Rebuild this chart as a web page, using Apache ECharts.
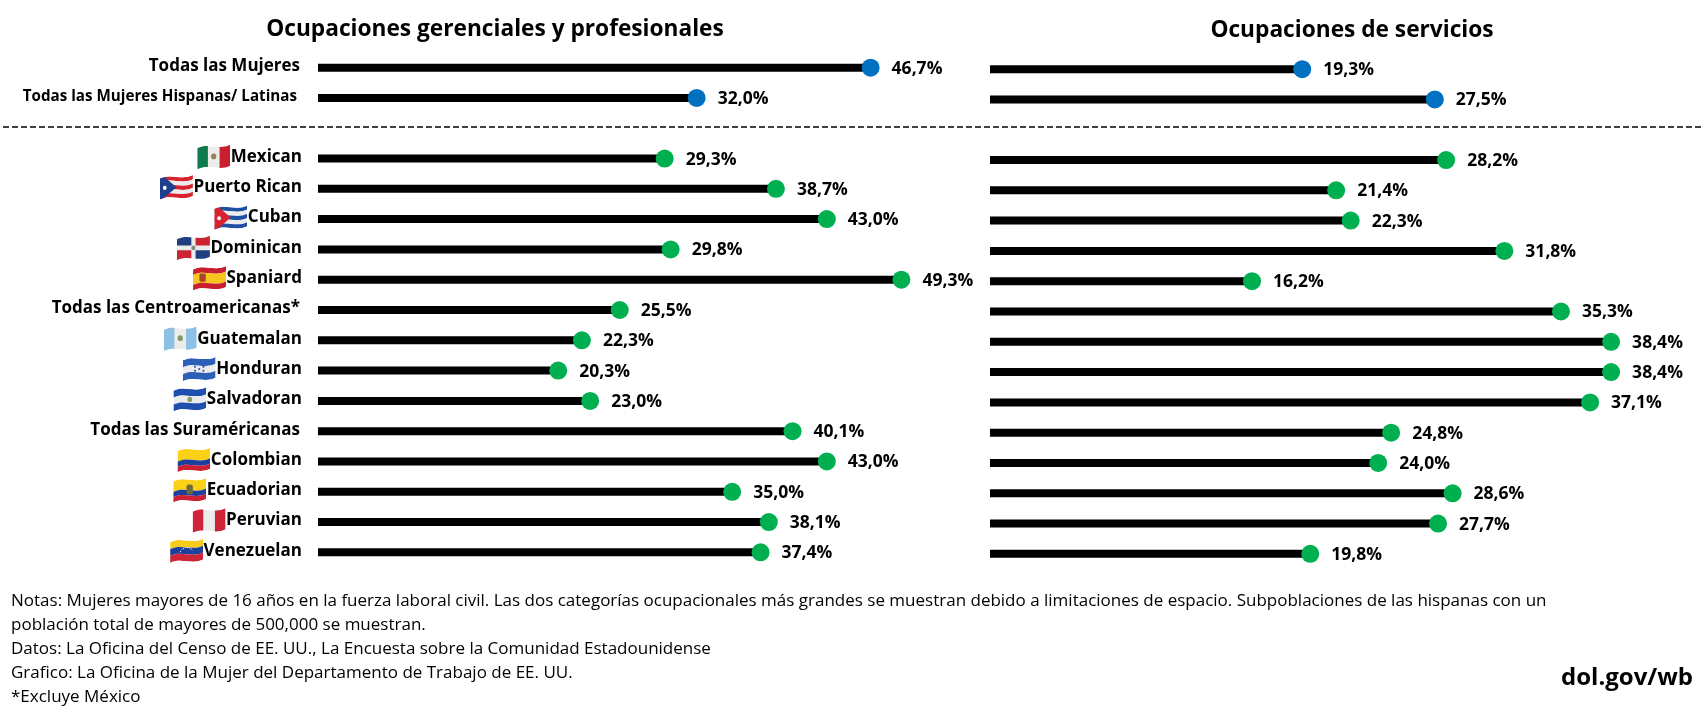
<!DOCTYPE html>
<html>
	<head>
		<meta charset="utf-8" />
		<title>Ocupaciones</title>
		<style type="text/css">
			body,
			html,
			#chart {
				width: 100%;
				height: 100%;
				overflow: hidden;
				margin: 0;
				background: #fff;
			}
		</style>
	</head>
	<body>
		<div id="chart"></div>
		<script src="https://cdn.jsdelivr.net/npm/echarts@6/dist/echarts.min.js"></script>
		<script>
			// datos (la fila vacia es el hueco de la linea punteada)
			var rowLabels = ['Todas las Mujeres', 'Todas las Mujeres Hispanas/ Latinas', '', 'Mexican', 'Puerto Rican', 'Cuban', 'Dominican', 'Spaniard', 'Todas las Centroamericanas*', 'Guatemalan', 'Honduran', 'Salvadoran', 'Todas las Suraméricanas', 'Colombian', 'Ecuadorian', 'Peruvian', 'Venezuelan'];
			var rowFlags = ['', '', '', 'mx', 'pr', 'cu', 'do', 'es', '', 'gt', 'hn', 'sv', '', 'co', 'ec', 'pe', 've'];
			var gerenciales = [46.7, 32.0, null, 29.3, 38.7, 43.0, 29.8, 49.3, 25.5, 22.3, 20.3, 23.0, 40.1, 43.0, 35.0, 38.1, 37.4];
			var servicios = [19.3, 27.5, null, 28.2, 21.4, 22.3, 31.8, 16.2, 35.3, 38.4, 38.4, 37.1, 24.8, 24.0, 28.6, 27.7, 19.8];
			var titles = ['Ocupaciones gerenciales y profesionales', 'Ocupaciones de servicios'];
			var notes = [
				'Notas: Mujeres mayores de 16 años en la fuerza laboral civil. Las dos categorías ocupacionales más grandes se muestran debido a limitaciones de espacio. Subpoblaciones de las hispanas con un',
				'población total de mayores de 500,000 se muestran.',
				'Datos: La Oficina del Censo de EE. UU., La Encuesta sobre la Comunidad Estadounidense',
				'Grafico: La Oficina de la Mujer del Departamento de Trabajo de EE. UU.',
				'*Excluye México'
			];

			var FONT = '"Open Sans", sans-serif';
			var BLUE = '#0070c0';
			var GREEN = '#00b050';

			// banda ondulada de la bandera, t0 y t1 van de 0 a 1
			function band(t0, t1, color) {
				var a = 7 + 36 * t0, b = 7 + 36 * t1;
				return '<path fill="' + color + '" d="M1 ' + (a + 3) + 'C22 ' + (a - 7) + ' 42 ' + (a + 7) + ' 63 ' + (a - 3) +
					'L63 ' + (b - 3) + 'C42 ' + (b + 7) + ' 22 ' + (b - 7) + ' 1 ' + (b + 3) + 'Z"/>';
			}
			function stripes(list) {
				var s = '', n = list.length;
				list.forEach(function (c, i) { s += band(i / n, (i + 1) / n, c); });
				return s;
			}
			var OUTLINE = 'M1 10C22 0 42 14 63 4L63 40C42 50 22 36 1 46Z';
			var flagArt = {
				mx: band(0, 1, '#ececec') + '<rect x="0" y="0" width="21" height="50" fill="#0f7a4d"/><rect x="43" y="0" width="21" height="50" fill="#c8202f"/><circle cx="32" cy="24" r="5" fill="#9a8150"/>',
				pr: stripes(['#d8232f', '#ececec', '#d8232f', '#ececec', '#d8232f']) + '<path d="M0 0L32 25L0 50Z" fill="#1f3f8f"/><circle cx="10" cy="26" r="3.5" fill="#fff"/>',
				cu: stripes(['#1d4fa3', '#ececec', '#1d4fa3', '#ececec', '#1d4fa3']) + '<path d="M0 0L32 25L0 50Z" fill="#d8232f"/><circle cx="10" cy="26" r="3.5" fill="#fff"/>',
				'do': band(0, 1, '#ececec') + '<path d="M0 0H28V21H0Z" fill="#1f3f7f"/><path d="M36 0H64V21H36Z" fill="#cc2433"/><path d="M0 29H28V50H0Z" fill="#cc2433"/><path d="M36 29H64V50H36Z" fill="#1f3f7f"/><circle cx="32" cy="25" r="4" fill="#7f8f7f"/>',
				es: band(0, 0.26, '#c8202f') + band(0.26, 0.74, '#f7c61c') + band(0.74, 1, '#c8202f') + '<rect x="13" y="17" width="12" height="14" rx="3" fill="#a8452a"/>',
				gt: band(0, 1, '#ececec') + '<rect x="0" y="0" width="21" height="50" fill="#8cc0e4"/><rect x="43" y="0" width="21" height="50" fill="#8cc0e4"/><circle cx="32" cy="24" r="5" fill="#7f9a6a"/>',
				hn: stripes(['#2c5fb8', '#ececec', '#2c5fb8']) + '<g fill="#2c5fb8"><circle cx="24" cy="21" r="2"/><circle cx="40" cy="21" r="2"/><circle cx="32" cy="25" r="2"/><circle cx="24" cy="28" r="2"/><circle cx="40" cy="28" r="2"/></g>',
				sv: stripes(['#1f4fae', '#ececec', '#1f4fae']) + '<circle cx="32" cy="25" r="4.5" fill="#8a9a6a"/>',
				co: band(0, 0.5, '#fbd116') + band(0.5, 0.75, '#1f3f9f') + band(0.75, 1, '#ce2035'),
				ec: band(0, 0.5, '#fbd116') + band(0.5, 0.75, '#1f3f9f') + band(0.75, 1, '#ce2035') + '<rect x="26" y="15" width="12" height="17" rx="4" fill="#6f6a3a"/>',
				pe: band(0, 1, '#ececec') + '<rect x="0" y="0" width="21" height="50" fill="#cf2438"/><rect x="43" y="0" width="21" height="50" fill="#cf2438"/>',
				ve: stripes(['#f8cc1b', '#1f3f9f', '#cf2438']) + '<path d="M20 27C26 17 38 17 44 25" fill="none" stroke="#fff" stroke-width="1.6" stroke-dasharray="2 2"/>'
			};
			function flagImage(code) {
				var svg = '<svg xmlns="http://www.w3.org/2000/svg" width="124" height="100" viewBox="0 0 64 50"><defs><clipPath id="c"><path d="' + OUTLINE + '"/></clipPath></defs><g clip-path="url(#c)">' + flagArt[code] + '</g></svg>';
				return 'data:image/svg+xml;charset=utf-8,' + encodeURIComponent(svg);
			}

			// estilos de la etiqueta del eje
			var rich = {
				name: { fontFamily: FONT, fontSize: 17, fontWeight: 700, color: '#000' },
				plain: { fontFamily: FONT, fontSize: 17, fontWeight: 700, color: '#000', padding: [0, 2, 0, 0] },
				small: { fontFamily: FONT, fontSize: 15.2, fontWeight: 700, color: '#000', padding: [0, 5, 0, 0] }
			};
			Object.keys(flagArt).forEach(function (code) {
				rich['f' + code] = { width: 34, height: 30, backgroundColor: { image: flagImage(code) } };
			});
			function labelFormatter(value, index) {
				if (!value) return '';
				if (rowFlags[index]) return '{f' + rowFlags[index] + '|}{name|' + value + '}';
				return (index === 1 ? '{small|' : '{plain|') + value + '}';
			}
			function percent(v) {
				return v.toFixed(1).replace('.', ',') + '%';
			}

			function barSeries(values, axis) {
				return {
					type: 'bar',
					xAxisIndex: axis,
					yAxisIndex: axis,
					data: values,
					barWidth: 8,
					itemStyle: { color: '#000' },
					silent: true
				};
			}
			function dotSeries(values, axis) {
				return {
					type: 'scatter',
					xAxisIndex: axis,
					yAxisIndex: axis,
					symbolSize: 18,
					z: 3,
					data: values.map(function (v, i) { return v === null ? null : [v, i]; }).filter(Boolean),
					itemStyle: {
						opacity: 1,
						color: function (p) { return p.data[1] < 2 ? BLUE : GREEN; }
					},
					label: {
						show: true,
						position: 'right',
						distance: 12,
						offset: [0, 1],
						fontFamily: FONT,
						fontSize: 17.5,
						fontWeight: 700,
						color: '#000',
						formatter: function (p) { return percent(p.data[0]); }
					}
				};
			}
			function valueAxis(grid, max) {
				return { type: 'value', gridIndex: grid, min: 0, max: max, show: false };
			}
			function rowAxis(grid, showLabels) {
				return {
					type: 'category',
					gridIndex: grid,
					data: rowLabels,
					inverse: true,
					axisLine: { show: false },
					axisTick: { show: false },
					axisLabel: {
						show: showLabels,
						interval: 0,
						margin: 16,
						align: 'right',
						padding: [0, 0, 3, 0],
						formatter: labelFormatter,
						rich: rich
					}
				};
			}

			var dom = document.getElementById('chart');
			var myChart = echarts.init(dom);
			var option = {
				animation: false,
				backgroundColor: '#fff',
				grid: [
					{ left: 318, top: 52.5, width: 710, height: 515 },
					{ left: 990, top: 54, width: 647, height: 515 }
				],
				xAxis: [valueAxis(0, 60), valueAxis(1, 40)],
				yAxis: [rowAxis(0, true), rowAxis(1, false)],
				series: [barSeries(gerenciales, 0), dotSeries(gerenciales, 0), barSeries(servicios, 1), dotSeries(servicios, 1)],
				graphic: [
					{ type: 'text', x: 495, y: 30, style: { text: titles[0], font: '700 22.7px ' + FONT, fill: '#000', textAlign: 'center', textVerticalAlign: 'middle' } },
					{ type: 'text', x: 1352, y: 31, style: { text: titles[1], font: '700 22.7px ' + FONT, fill: '#000', textAlign: 'center', textVerticalAlign: 'middle' } },
					{ type: 'line', shape: { x1: 3, y1: 127, x2: 1702, y2: 127 }, style: { stroke: '#000', lineWidth: 1.5, lineDash: [6, 3] } },
					{ type: 'text', x: 1693, y: 678, style: { text: 'dol.gov/wb', font: '700 24px ' + FONT, fill: '#000', textAlign: 'right', textVerticalAlign: 'middle' } }
				].concat(notes.map(function (line, i) {
					return { type: 'text', x: 11, y: 601 + i * 24, style: { text: line, font: '400 17px ' + FONT, fill: '#000', textVerticalAlign: 'middle' } };
				}))
			};
			myChart.setOption(option);
		</script>
	</body>
</html>
